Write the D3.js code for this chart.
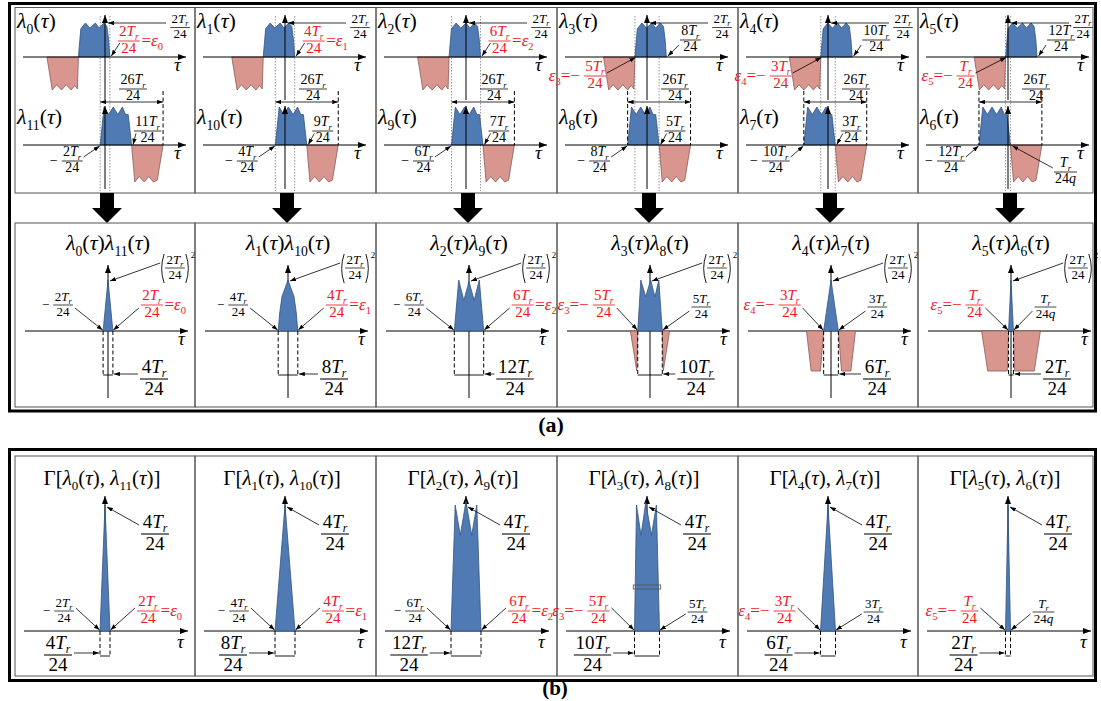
<!DOCTYPE html>
<html lang="en">
<head>
<meta charset="UTF-8">
<title>Products of shifted pulses</title>
<script src="https://d3js.org/d3.v7.min.js"></script>
<style>
  body { margin: 0; background: #fff; }
  svg { display: block; }
  text { font-family: "Liberation Serif", "Times New Roman", serif; }
</style>
</head>
<body>
<script>
// every τ value below is in units of Tr/24
const pairs = [0, 1, 2, 3, 4, 5];
const partners = [11, 10, 9, 8, 7, 6];
const upperEnd = [2, 4, 6, 8, 10, 12];          // right end of λk
const lowerStart = [-2, -4, -6, -8, -10, -12];  // left end of λ(11-k)
const lowerBlueEnd = [11, 9, 7, 5, 3, 1];
const lowerEndDen = ["24", "24", "24", "24", "24", "24q"];
const overlap = [2, 4, 6, 5, 3, 1];             // |εk|
const epsilon = [2, 4, 6, -5, -3, -1];
const windowWidth = [4, 8, 12, 10, 6, 2];
const lobeWidth = 13;
const spanWidth = 26;
const pulseHeight = 2;
const gammaPeak = 4;

// lobe outlines: [τ from lobe start, level]
const upperBlue = [[0, 0], [1, 0.83], [2.9, 1], [4.8, 0.85], [7, 1], [8.6, 0.85], [10.5, 1], [11.8, 0.9], [12.5, 0.5], [13, 0]];
const upperPink = [[0, 0], [2.2, -1], [4, -0.84], [6, -1], [8, -0.84], [10, -1], [11.5, -0.86], [12.6, -0.97], [13, 0]];
const lowerBlue = [[0, 0], [1.6, 1], [3.5, 0.8], [5.4, 1], [7.3, 0.8], [9.2, 1], [10.5, 0.8], [11.6, 0.8], [13, 0]];
const lowerPink = [[0, 0], [1.3, -1], [3.2, -0.85], [5.2, -1], [7.1, -0.85], [9, -1], [10.6, -0.95], [13, 0]];

// product outlines: [τ / |εk|, level]
const spike = [[-1, 0], [0, 1], [1, 0]];
const arch = [[-1, 0], [-0.85, 0.35], [-0.62, 0.67], [0, 1], [0.62, 0.67], [0.85, 0.35], [1, 0]];
const crownA = [[-1, 0], [-0.7, 1], [-0.35, 0.6], [0, 0.97], [0.35, 0.6], [0.7, 1], [1, 0]];
const crownB = [[-1, 0], [-0.75, 1], [-0.35, 0.67], [0.05, 1], [0.4, 0.67], [0.72, 1], [1, 0]];
const productShape = [spike, arch, crownA, crownB, spike, spike];
// negative part of the product, left side, [τ, level]
const productNeg = [[], [], [],
  [[-8, 0], [-5, 0], [-5.4, -1]],
  [[-10, 0], [-3, 0], [-4.3, -1], [-8.1, -1]],
  [[-12, 0], [-1, 0], [-1.5, -1], [-9.5, -1]]];

const gCrownA = [[-1, 0], [-0.72, 1], [-0.38, 0.76], [0, 1.03], [0.38, 0.76], [0.72, 1], [1, 0]];
const gCrownB = [[-1, 0], [-0.84, 1], [-0.48, 0.76], [-0.1, 1.02], [0.36, 0.76], [0.75, 1], [1, 0]];
const gammaShape = [spike, spike, gCrownA, gCrownB, spike, spike];
const gammaBand = [null, null, null, 0.365, null, null];

const W = 1101, H = 701;
const BLUE = "#4f7ab3", BLUE_EDGE = "#34547f";
const PINK = "#d9968f", PINK_EDGE = "#8a5a56";
const RED = "#f0141e";
const colEdges = [15, 195, 376, 557, 738, 918, 1093];

const svg = d3.select("body").append("svg").attr("width", W).attr("height", H);
const defs = svg.append("defs");

function addMarker(id, len, wid) {
  defs.append("marker").attr("id", id)
    .attr("markerUnits", "userSpaceOnUse")
    .attr("viewBox", `0 0 ${len} ${wid}`)
    .attr("refX", len).attr("refY", wid / 2)
    .attr("markerWidth", len).attr("markerHeight", wid)
    .attr("orient", "auto-start-reverse")
    .append("path").attr("d", `M0,0L${len},${wid / 2}L0,${wid}Z`).attr("fill", "#000");
}
addMarker("tip", 6, 4.4);
addMarker("axtip", 8, 6);

// text with italic / subscript pieces
function mtext(g, x, y, tokens, size, color, anchor) {
  const t = g.append("text").attr("x", x).attr("y", y)
    .attr("font-size", size).attr("fill", color || "#000")
    .attr("text-anchor", anchor || "start");
  let shift = 0;
  tokens.forEach(([s, st]) => {
    const sp = t.append("tspan").text(s);
    let target = 0, fs = size;
    if (st === "sub" || st === "isub") { target = size * 0.25; fs = size * 0.62; }
    if (st === "i" || st === "isub") sp.attr("font-style", "italic");
    sp.attr("font-size", fs);
    if (target !== shift) { sp.attr("dy", target - shift); shift = target; }
  });
  return t;
}
const trTokens = c => (c === 1 ? [] : [[String(c)]]).concat([["T", "i"], ["r", "isub"]]);
const lamTokens = i => [["λ", "i"], [String(i), "sub"], ["("], ["τ", "i"], [")"]];
const denTokens = s => s.endsWith("q") ? [[s.slice(0, -1)], ["q", "i"]] : [[s]];
const epsTokens = (k, before) => before
  ? [["ε", "i"], [String(k), "sub"], ["="], ["−"]]
  : [["="], ["ε", "i"], [String(k), "sub"]];

function frac(g, cx, bar, c, den, size, color) {
  const n = mtext(g, cx, bar - size * 0.34, trTokens(c), size, color, "middle");
  const d = mtext(g, cx, bar + size * 0.82, denTokens(den), size, color, "middle");
  const w = Math.max(n.node().getBBox().width, d.node().getBBox().width) + size * 0.15;
  g.append("line").attr("x1", cx - w / 2).attr("x2", cx + w / 2)
    .attr("y1", bar).attr("y2", bar)
    .attr("stroke", color || "#000").attr("stroke-width", Math.max(0.7, size / 18));
  return [cx - w / 2, cx + w / 2];
}
function label(g, o) {
  const color = o.color || "#000";
  const [l, r] = frac(g, o.cx, o.bar, o.c, o.den || "24", o.size, color);
  const ps = o.preSize || o.size;
  if (o.pre) mtext(g, l - 4, o.bar + ps * 0.28, o.pre, ps, color, "end");
  if (o.post) mtext(g, r + 1.5, o.bar + ps * 0.28, o.post, ps, color, "start");
  return [l, r];
}
function line(g, x1, y1, x2, y2, o = {}) {
  const l = g.append("line").attr("x1", x1).attr("y1", y1).attr("x2", x2).attr("y2", y2)
    .attr("stroke", o.color || "#000").attr("stroke-width", o.w || 1);
  if (o.dash) l.attr("stroke-dasharray", o.dash);
  if (o.end) l.attr("marker-end", `url(#${o.end})`);
  if (o.start) l.attr("marker-start", `url(#${o.start})`);
  return l;
}
const pointer = (g, x1, y1, x2, y2) => line(g, x1, y1, x2, y2, { w: 0.8, end: "tip" });

function shape(g, pts, xs, ys, fill, edge) {
  g.append("path")
    .attr("d", d3.line().x(d => xs(d[0])).y(d => ys(d[1]))(pts) + "Z")
    .attr("fill", fill).attr("stroke", edge).attr("stroke-width", 0.8);
}
function paren(g, x, top, bot, dir) {
  g.append("path")
    .attr("d", `M${x + 2 * dir},${top}Q${x - 3 * dir},${(top + bot) / 2} ${x + 2 * dir},${bot}`)
    .attr("fill", "none").attr("stroke", "#000").attr("stroke-width", 0.9);
}
function box(g, x, y, w, h) {
  g.append("rect").attr("x", x).attr("y", y).attr("width", w).attr("height", h)
    .attr("fill", "none").attr("stroke", "#555").attr("stroke-width", 1);
}

// outer frames
svg.append("rect").attr("x", 9.5).attr("y", 3.5).attr("width", 1086).attr("height", 407.5)
  .attr("fill", "none").attr("stroke", "#000").attr("stroke-width", 3);
svg.append("rect").attr("x", 9.5).attr("y", 449.5).attr("width", 1086).attr("height", 231)
  .attr("fill", "none").attr("stroke", "#000").attr("stroke-width", 3);
svg.append("text").attr("x", 551).attr("y", 432).attr("text-anchor", "middle")
  .attr("font-size", 22).attr("font-weight", "bold").text("(a)");
svg.append("text").attr("x", 555).attr("y", 695).attr("text-anchor", "middle")
  .attr("font-size", 21).attr("font-weight", "bold").text("(b)");

pairs.forEach(k => {
  const L = colEdges[k], R = colEdges[k + 1];
  const o = overlap[k];

  // ---------- top: λk and λ(11-k) ----------
  const g = svg.append("g");
  box(g, L, 7.5, R - L, 185.5);
  const x0 = L + 90;
  const x = d3.scaleLinear().domain([0, 1]).range([x0, x0 + 2.42]);
  const yU = d3.scaleLinear().domain([-1, 0, 1]).range([90, 57, 23]);
  const yL = d3.scaleLinear().domain([-1, 0, 1]).range([182, 145, 107]);
  const shift = (pts, s) => pts.map(([u, v]) => [s + u, v]);

  [-o, o].forEach(t => line(g, x(t), 16, x(t), 191, { color: "#999", dash: "1.5,1.5" }));
  shape(g, shift(upperPink, upperEnd[k] - spanWidth), x, yU, PINK, PINK_EDGE);
  shape(g, shift(upperBlue, upperEnd[k] - lobeWidth), x, yU, BLUE, BLUE_EDGE);
  shape(g, shift(lowerBlue, lowerStart[k]), x, yL, BLUE, BLUE_EDGE);
  shape(g, shift(lowerPink, lowerStart[k] + lobeWidth), x, yL, PINK, PINK_EDGE);

  line(g, x0 - 82, 57, x0 + 81, 57, { end: "axtip" });
  line(g, x0, 100, x0, 15, { end: "axtip" });
  line(g, x0 - 82, 145, x0 + 81, 145, { end: "axtip" });
  line(g, x0, 189, x0, 106, { end: "axtip" });
  mtext(g, x0 + 69, 71, [["τ", "i"]], 19);
  mtext(g, x0 + 69, 159, [["τ", "i"]], 19);
  mtext(g, L + 2, 28, lamTokens(k), 22);
  mtext(g, L + 2, 124, lamTokens(partners[k]), 22);

  line(g, x0 + 61, yU(1), x0 + 3, yU(1), { w: 0.8, end: "tip" });
  label(g, { cx: x0 + 75, bar: 27.5, c: pulseHeight, size: 13 });

  const a = lowerStart[k], b = lowerStart[k] + spanWidth;
  line(g, x(a), 102, x(b), 102, { w: 0.8, start: "tip", end: "tip" });
  line(g, x(b), 91, x(b), 145, { dash: "4,2.5" });
  if (a !== -o) line(g, x(a), 91, x(a), 145, { dash: "4,2.5" });
  label(g, { cx: x0 + 28, bar: 89, c: spanWidth, size: 14 });

  const ex = x(upperEnd[k]);
  if (epsilon[k] === upperEnd[k]) {
    const [l] = label(g, { cx: ex + 19, bar: 41, c: upperEnd[k], size: 15, color: RED, post: epsTokens(k), preSize: 17 });
    pointer(g, l + 2, 43, ex + 1.5, 56);
  } else {
    const [l] = label(g, { cx: ex + 24, bar: 40, c: upperEnd[k], size: 14 });
    pointer(g, l - 1, 45, ex + 1.5, 56);
    const bs = x(epsilon[k]);
    const [, r] = label(g, { cx: bs - 40, bar: 76, c: -epsilon[k], size: 15, color: RED, pre: epsTokens(k, true), preSize: 17 });
    pointer(g, r + 1, 73, bs + 0.5, 57.5);
  }

  const lx = x(lowerBlueEnd[k]);
  if (lowerEndDen[k] === "24") {
    const [l] = label(g, { cx: lx + 16, bar: 131, c: lowerBlueEnd[k], size: 14 });
    pointer(g, l + 2, 133.5, lx + 1.5, 144.5);
  } else {
    const [l] = label(g, { cx: lx + 55, bar: 172, c: lowerBlueEnd[k], den: lowerEndDen[k], size: 14 });
    pointer(g, l - 1, 168, lx + 2, 146);
  }
  const sx = x(lowerStart[k]);
  const [, r2] = label(g, { cx: sx - 28, bar: 161, c: -lowerStart[k], size: 14, pre: [["−"]] });
  pointer(g, r2 + 1, 157, sx - 0.5, 146);

  // ---------- arrow down ----------
  const ax = L + 92;
  svg.append("path")
    .attr("d", `M${ax - 7},193L${ax + 7},193L${ax + 7},208L${ax + 15},208L${ax},223L${ax - 15},208L${ax - 7},208Z`)
    .attr("fill", "#000");

  // ---------- middle: λk(τ)λ(11-k)(τ) ----------
  const gm = svg.append("g");
  box(gm, L, 223, R - L, 184);
  const m0 = L + 93;
  const xm = d3.scaleLinear().domain([0, 1]).range([m0, m0 + 2.45]);
  const ym = d3.scaleLinear().domain([-1, 0, 1]).range([371, 331, 280]);
  line(gm, m0 - 83, 331, m0 + 80, 331, { end: "axtip" });
  line(gm, m0, 398, m0, 265, { end: "axtip" });
  mtext(gm, m0 + 70, 345, [["τ", "i"]], 19);
  if (productNeg[k].length) {
    shape(gm, productNeg[k], xm, ym, PINK, PINK_EDGE);
    shape(gm, productNeg[k].map(([t, v]) => [-t, v]), xm, ym, PINK, PINK_EDGE);
  }
  shape(gm, productShape[k].map(([u, v]) => [u * o, v]), xm, ym, BLUE, BLUE_EDGE);
  const lo = xm(-o), ro = xm(o);
  line(gm, lo, 331, lo, 375, { dash: "4,2.5" });
  line(gm, ro, 331, ro, 375, { dash: "4,2.5" });
  line(gm, lo, 375, ro, 375, { w: 0.9 });

  mtext(gm, m0, 250, lamTokens(k).concat(lamTokens(partners[k])), 22, "#000", "middle");
  const [pl, pr] = label(gm, { cx: m0 + 67, bar: 268, c: pulseHeight, size: 13 });
  paren(gm, pl - 3, 254, 283, 1);
  paren(gm, pr + 3, 254, 283, -1);
  mtext(gm, pr + 6, 258, [["2"]], 9);
  pointer(gm, pl - 5, 263, m0 + 2, 281);

  if (epsilon[k] > 0) {
    const [, r] = label(gm, { cx: lo - 40, bar: 305, c: o, size: 13, pre: [["−"]] });
    pointer(gm, r + 2, 308, lo - 0.5, 330);
    const [l] = label(gm, { cx: ro + 39, bar: 305, c: o, size: 15, color: RED, post: epsTokens(k), preSize: 17 });
    pointer(gm, l - 2, 308, ro + 0.5, 330);
  } else {
    const [, r] = label(gm, { cx: lo - 34, bar: 305, c: o, size: 15, color: RED, pre: epsTokens(k, true), preSize: 17 });
    pointer(gm, r + 2, 308, lo - 0.5, 330);
    const q = lowerEndDen[k] !== "24";
    const [l] = label(gm, { cx: ro + (q ? 32 : 39), bar: 307, c: o, den: lowerEndDen[k], size: 13 });
    pointer(gm, l - 2, 311, ro + 0.5, 330);
  }
  const [wl] = label(gm, { cx: m0 + 46, bar: 379, c: windowWidth[k], size: 19 });
  pointer(gm, wl - 2, 374, ro + 1, 374);

  // ---------- bottom: Γ[λk, λ(11-k)] ----------
  const gb = svg.append("g");
  box(gb, L, 456, R - L, 220);
  const b0 = L + 90;
  const xb = d3.scaleLinear().domain([0, 1]).range([b0, b0 + 2.5]);
  const yb = d3.scaleLinear().domain([0, 1]).range([631, 505]);
  line(gb, b0 - 81, 631, b0 + 83, 631, { end: "axtip" });
  line(gb, b0, 631, b0, 496, { end: "axtip" });
  mtext(gb, b0 + 72, 648, [["τ", "i"]], 19);
  shape(gb, gammaShape[k].map(([u, v]) => [u * o, v]), xb, yb, BLUE, BLUE_EDGE);
  if (gammaBand[k] !== null) {
    gb.append("rect").attr("x", xb(-o * 1.1)).attr("y", yb(gammaBand[k]))
      .attr("width", xb(o * 1.1) - xb(-o * 1.1)).attr("height", 4)
      .attr("fill", "none").attr("stroke", "#555").attr("stroke-width", 0.8);
  }
  const blo = xb(-o), bro = xb(o);
  line(gb, blo, 631, blo, 656, { dash: "4,2.5" });
  line(gb, bro, 631, bro, 656, { dash: "4,2.5" });
  line(gb, blo, 656, bro, 656, { w: 0.9 });

  const gTitle = [["Γ"], ["["]].concat(lamTokens(k), [[", "]], lamTokens(partners[k]), [["]"]]);
  mtext(gb, b0 - 3, 485, gTitle, 21, "#000", "middle");
  const [gl] = label(gb, { cx: b0 + 50, bar: 534, c: gammaPeak, size: 19 });
  pointer(gb, gl - 2, 525, b0 + 2, 507);

  if (epsilon[k] > 0) {
    const [, r] = label(gb, { cx: blo - 36, bar: 611, c: o, size: 13, pre: [["−"]] });
    pointer(gb, r + 2, 608, blo - 0.5, 630);
    const [l] = label(gb, { cx: bro + 38, bar: 611, c: o, size: 15, color: RED, post: epsTokens(k), preSize: 17 });
    pointer(gb, l - 2, 608, bro + 0.5, 630);
  } else {
    const [, r] = label(gb, { cx: blo - 36, bar: 611, c: o, size: 15, color: RED, pre: epsTokens(k, true), preSize: 17 });
    pointer(gb, r + 2, 608, blo - 0.5, 630);
    const q = lowerEndDen[k] !== "24";
    const [l] = label(gb, { cx: bro + (q ? 33 : 38), bar: 612, c: o, den: lowerEndDen[k], size: 13 });
    pointer(gb, l - 2, 614, bro + 0.5, 630);
  }
  const [, br] = label(gb, { cx: blo - 42, bar: 655, c: windowWidth[k], size: 19 });
  pointer(gb, br + 2, 653, blo - 1, 653);
});
</script>
</body>
</html>
